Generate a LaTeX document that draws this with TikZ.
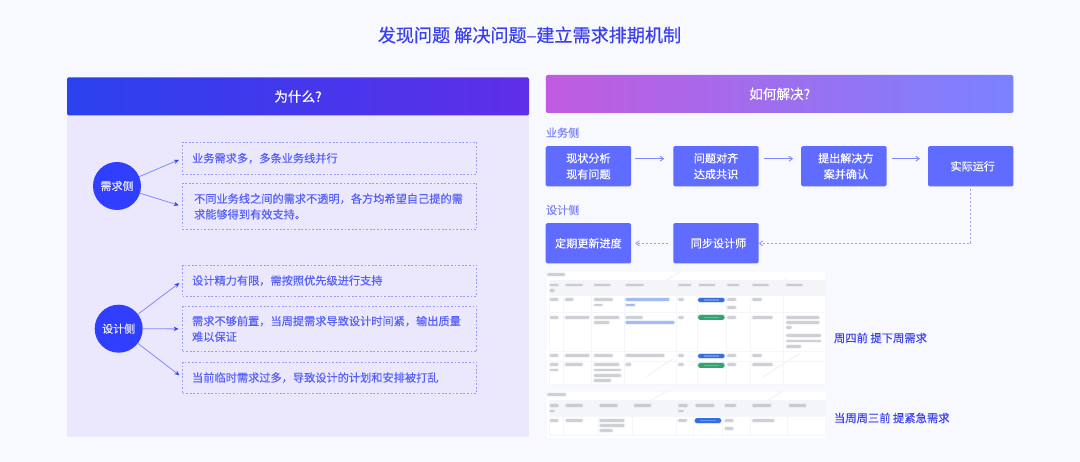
\documentclass[tikz,border=0pt]{standalone}
\usepackage{fontspec}
\setmainfont{Noto Sans CJK SC}[FakeBold=0.22]
\newfontfamily\titlefont{Noto Sans CJK SC}[FakeBold=0.55]
\usetikzlibrary{arrows.meta}
\definecolor{pagebg}{HTML}{F8F8FF}
\definecolor{panelbg}{HTML}{EBE8FE}
\definecolor{deep}{HTML}{2F3EFF}
\definecolor{flowblue}{HTML}{5F6CFF}
\definecolor{txtblue}{HTML}{5560F6}
\definecolor{titleblue}{HTML}{3B40EE}
\definecolor{labelblue}{HTML}{7C82F4}
\definecolor{linkline}{HTML}{8189FF}
\definecolor{dashline}{HTML}{9A9CF8}
\definecolor{headA}{HTML}{2A41EE}
\definecolor{headB}{HTML}{5F2EE8}
\definecolor{headC}{HTML}{C15BDF}
\definecolor{headD}{HTML}{7A82FF}
\definecolor{tblhead}{HTML}{F4F5F8}
\definecolor{tblline}{HTML}{F5F6F9}
\definecolor{bargray}{HTML}{8A8F9C}
\definecolor{barblue}{HTML}{1F5FE0}
\definecolor{bargreen}{HTML}{1E9A62}
\tikzset{
  x=1pt,y=-1pt,
  every node/.style={inner sep=0pt,outer sep=0pt},
  headbar/.style={rounded corners=1.5pt,minimum height=38pt,text=white,font=\fontsize{13.6}{16}\selectfont},
  ball/.style={circle,fill=deep,minimum size=48pt,text=white!90!deep,font=\fontsize{11}{13}\selectfont},
  dbox/.style={draw=dashline,line width=.8pt,dash pattern=on 1.8pt off 1.8pt,minimum width=294pt,
     text width=275pt,inner xsep=9.5pt,align=left,text=txtblue,font=\fontsize{11.2}{15.7}\selectfont},
  flowbox/.style={fill=flowblue,rounded corners=1.5pt,minimum width=85.4pt,minimum height=40.3pt,
     align=center,text=white,font=\fontsize{11.1}{16}\selectfont},
  fan/.style={draw=linkline,line width=.8pt,-{Stealth[length=5pt,width=4.4pt,color=deep]},shorten >=4pt},
  solidarrow/.style={draw=linkline,line width=.9pt,-{Straight Barb[length=3.5pt,width=5pt]}},
  dasharrow/.style={draw=dashline,line width=.9pt,dash pattern=on 2pt off 2pt,-{Straight Barb[length=3.5pt,width=5pt,sep=0pt]}},
  sidelabel/.style={anchor=west,text=labelblue,font=\fontsize{11.1}{13}\selectfont},
  weeklabel/.style={anchor=west,text=titleblue,font=\fontsize{11.3}{13}\selectfont},
}
\newcommand{\tbar}[4][bargray]{%
  \draw[#1,line width=4.4pt,opacity=.08,line cap=round] (#2,#4) -- (#3,#4);
  \draw[#1,line width=2.4pt,opacity=.36,line cap=round] (#2,#4) -- (#3,#4);}
\newcommand{\tpill}[3]{%
  \draw[#1,line width=6pt,opacity=.2,line cap=round] (#2,#3) -- ++(66,0);
  \draw[#1,line width=4.4pt,opacity=.88,line cap=round] (#2,#3) -- ++(66,0);
  \draw[white,line width=1.2pt,opacity=.25] (#2+10,#3) -- ++(46,0);}
\begin{document}
\begin{tikzpicture}
\useasboundingbox (0,0) rectangle (1080,462);
\fill[pagebg] (0,0) rectangle (1080,462);
\node[text=titleblue,font=\titlefont\fontsize{18.1}{22}\selectfont] (title) at (529.5,35) {发现问题 解决问题–建立需求排期机制};

% left panel
\node[fill=panelbg,minimum width=462pt,minimum height=322pt] (panel) at (298,276) {};
\node[headbar,minimum width=462pt,left color=headA,right color=headB] (why) at (298,96.5) {为什么?\hspace{8pt}};
\node[ball] (need) at (117,186) {需求侧};
\node[ball] (design) at (118.7,328.7) {设计侧};
\node[dbox,minimum height=32pt] (b1) at (329.6,158.3) {业务需求多，多条业务线并行};
\node[dbox,minimum height=46.4pt,inner xsep=11.5pt,text width=271pt] (b2) at (329.6,206.5) {不同业务线之间的需求不透明，各方均希望自己提的需\\求能够得到有效支持。};
\node[dbox,minimum height=31.3pt] (b3) at (329.6,280.6) {设计精力有限，需按照优先级进行支持};
\node[dbox,minimum height=45.7pt] (b4) at (329.6,328.9) {需求不够前置，当周提需求导致设计时间紧，输出质量\\难以保证};
\node[dbox,minimum height=31.3pt] (b5) at (329.6,377.7) {当前临时需求过多，导致设计的计划和安排被打乱};
\draw[fan] (need) -- (b1.west);
\draw[fan] (need) -- (b2.west);
\draw[fan] (design) -- (b3.west);
\draw[fan] (design) -- (b4.west);
\draw[fan] (design) -- (b5.west);

% right panel
\node[headbar,minimum width=467.5pt,left color=headC,right color=headD] (how) at (779.7,94) {如何解决?\hspace{17pt}};
\node[sidelabel] (lbiz) at (546,132.7) {业务侧};
\node[sidelabel] (ldes) at (546,210) {设计侧};
\node[flowbox] (f1) at (588.4,166.2) {现状分析\\现有问题};
\node[flowbox] (f2) at (716,166.2) {问题对齐\\达成共识};
\node[flowbox] (f3) at (843.9,166.2) {\hspace{4pt}提出解决方\\\hspace{4pt}案并确认};
\node[flowbox] (f4) at (970.7,166.2) {\hspace{4pt}实际运行};
\node[flowbox] (g1) at (588.4,243.3) {定期更新进度};
\node[flowbox] (g2) at (716,243.3) {\hspace{5pt}同步设计师};
\draw[solidarrow] ([xshift=4pt,yshift=7.5pt]f1.east) -- ([xshift=-9pt,yshift=7.5pt]f2.west);
\draw[solidarrow] ([xshift=5pt,yshift=7.5pt]f2.east) -- ([xshift=-8pt,yshift=7.5pt]f3.west);
\draw[solidarrow] ([xshift=5pt,yshift=7.5pt]f3.east) -- ([xshift=-8pt,yshift=7.5pt]f4.west);
\draw[dasharrow] ([yshift=-3pt]f4.south) -- (f4.south |- g2.east) -- (g2.east);
\draw[dasharrow] ([xshift=-5pt]g2.west) -- ([xshift=4pt]g1.east);

% blurred table image
\begin{scope}[shift={(540,265)},x=.3333pt,y=-.3333pt]
\fill[white] (20,20) rectangle (855,360);
\fill[white] (20,380) rectangle (858,520);
\fill[tblhead] (28,45) rectangle (855,92);
\fill[tblhead] (28,405) rectangle (855,453);
\foreach \cx in {28,70,155,252,410,472,558,630,730,855} \draw[tblline,line width=.5pt] (\cx,45) -- (\cx,358);
\foreach \ry in {92,142,260,288,358} \draw[tblline,line width=.5pt] (28,\ry) -- (855,\ry);
\foreach \cx in {28,70,175,278,408,460,548,630,742,855} \draw[tblline,line width=.5pt] (\cx,405) -- (\cx,512);
\foreach \ry in {453,512} \draw[tblline,line width=.5pt] (28,\ry) -- (855,\ry);
\foreach \ax/\ay/\bx/\by in {310/90/420/20,320/335/400/280,670/335/780/265,660/90/740/40,330/408/380/378,680/408/730/378}
  \draw[tblhead,line width=1.5pt] (\ax,\ay) -- (\bx,\by);
% table one
\tbar{25}{72}{28}
\tbar{33}{52}{60}\tbar{33}{40}{77}\tbar{80}{125}{60}\tbar{165}{208}{60}\tbar{260}{308}{60}\tbar{418}{450}{60}\tbar{480}{522}{60}\tbar{565}{595}{60}\tbar{640}{683}{60}\tbar{742}{785}{60}
\tbar{33}{52}{104}\tbar{78}{97}{104}\tbar{165}{215}{104}\tbar{165}{185}{120}\tbar[barblue]{260}{385}{104}\tbar[barblue]{260}{282}{120}\tbar{418}{428}{104}\tpill{barblue}{481}{105}\tbar{565}{585}{104}\tbar{565}{585}{128}\tbar{640}{662}{104}
\tbar{33}{52}{157}\tbar{78}{145}{157}\tbar{165}{235}{157}\tbar{165}{205}{172}\tbar{260}{305}{157}\tbar[barblue]{260}{400}{172}\tbar{418}{428}{157}\tpill{bargreen}{481}{157}\tbar{565}{585}{157}\tbar{640}{695}{157}\tbar{742}{835}{157}\tbar{742}{835}{172}\tbar{742}{752}{188}\tbar{742}{840}{212}\tbar{742}{840}{228}\tbar{742}{780}{244}
\tbar{33}{52}{272}\tbar{78}{145}{272}\tbar{165}{215}{272}\tbar{260}{370}{272}\tbar{418}{428}{272}\tpill{barblue}{481}{273}\tbar{565}{585}{272}\tbar{640}{662}{272}
\tbar{33}{52}{299}\tbar{33}{52}{315}\tbar{78}{125}{299}\tbar{165}{235}{299}\tbar{165}{240}{315}\tbar{165}{240}{331}\tbar{165}{210}{347}\tbar{260}{270}{299}\tbar{418}{428}{299}\tpill{bargreen}{481}{301}\tbar{565}{585}{299}\tbar{640}{695}{299}
% table two
\tbar{25}{75}{388}
\tbar{33}{52}{421}\tbar{33}{40}{438}\tbar{80}{125}{421}\tbar{182}{230}{421}\tbar{285}{330}{421}\tbar{418}{440}{421}\tbar{418}{428}{438}\tbar{470}{520}{421}\tbar{557}{585}{421}\tbar{640}{690}{421}\tbar{750}{795}{421}
\tbar{33}{52}{466}\tbar{80}{125}{466}\tbar{182}{250}{466}\tbar{182}{250}{481}\tbar{182}{215}{497}\tbar{418}{438}{466}\tpill{barblue}{471}{467}\tbar{557}{577}{466}\tbar{557}{577}{490}\tbar{640}{700}{466}
\end{scope}
\node[weeklabel] (w1) at (834,338) {周四前 提下周需求};
\node[weeklabel] (w2) at (834,418) {当周周三前 提紧急需求};
\end{tikzpicture}
\end{document}
